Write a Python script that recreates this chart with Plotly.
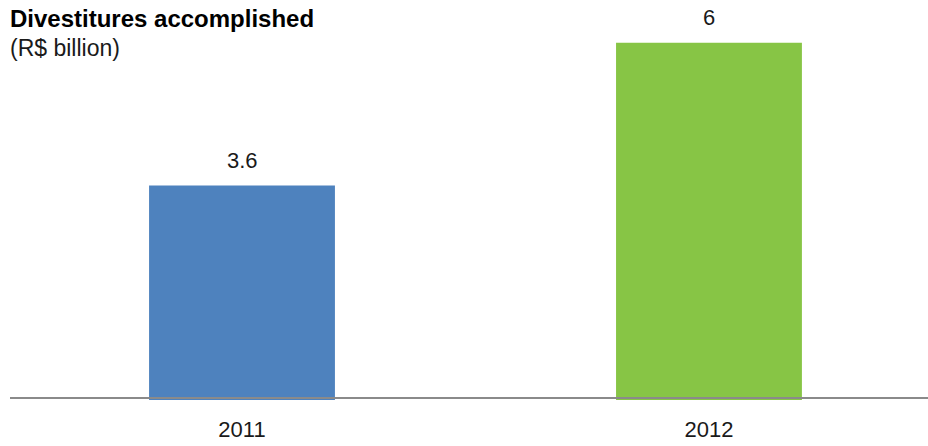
import plotly.graph_objects as go

# Divestitures by year, R$ billion
years = ["2011", "2012"]
values = [3.6, 6]
bar_colors = ["#4E82BE", "#87C545"]

title_text = "Divestitures accomplished"
unit_text = "(R$ billion)"

FONT = "Liberation Sans, Arial, sans-serif"
W, H = 928, 446
ML, MR, MT, MB = 10, 0, 0, 45
plot_h = H - MT - MB          # 401 px
px_per_unit = 59.55           # vertical scale
y_lo = -1 / px_per_unit
y_hi = y_lo + plot_h / px_per_unit

fig = go.Figure()
fig.add_trace(go.Bar(
    x=[0, 1],
    y=values,
    width=0.398,
    marker=dict(color=bar_colors, line=dict(width=0)),
    hoverinfo="skip",
))

# value labels above the bars
for i, v in enumerate(values):
    fig.add_annotation(
        x=i, y=v, xref="x", yref="y",
        text=f"{v:g}", showarrow=False,
        yanchor="bottom", yshift=11,
        font=dict(family=FONT, size=22, color="#1a1a1a"),
    )

# title and unit line
fig.add_annotation(
    x=0, y=1, xref="paper", yref="paper", xanchor="left", yanchor="top",
    xshift=-2, yshift=-3, text=f"<b>{title_text}</b>", showarrow=False,
    font=dict(family=FONT, size=24, color="#000000"),
)
fig.add_annotation(
    x=0, y=1, xref="paper", yref="paper", xanchor="left", yanchor="top",
    xshift=-2, yshift=-33, text=unit_text, showarrow=False,
    font=dict(family=FONT, size=23, color="#1a1a1a"),
)

# baseline
fig.add_shape(
    type="line", xref="paper", yref="y domain",
    x0=0, x1=1, y0=3 / plot_h, y1=3 / plot_h,
    line=dict(color="#8a8a8a", width=2), layer="above",
)

fig.update_xaxes(
    tickmode="array", tickvals=[0, 1], ticktext=years,
    range=[-0.4968, 1.4690],
    showgrid=False, zeroline=False, showline=False, ticks="",
    tickfont=dict(family=FONT, size=22, color="#1a1a1a"),
    ticklabelstandoff=13,
)
fig.update_yaxes(
    range=[y_lo, y_hi], visible=False, showgrid=False, zeroline=False,
)
fig.update_layout(
    width=W, height=H,
    margin=dict(l=ML, r=MR, t=MT, b=MB, pad=0),
    paper_bgcolor="white", plot_bgcolor="white",
    showlegend=False,
    font=dict(family=FONT),
)

fig.write_html("out.html")
